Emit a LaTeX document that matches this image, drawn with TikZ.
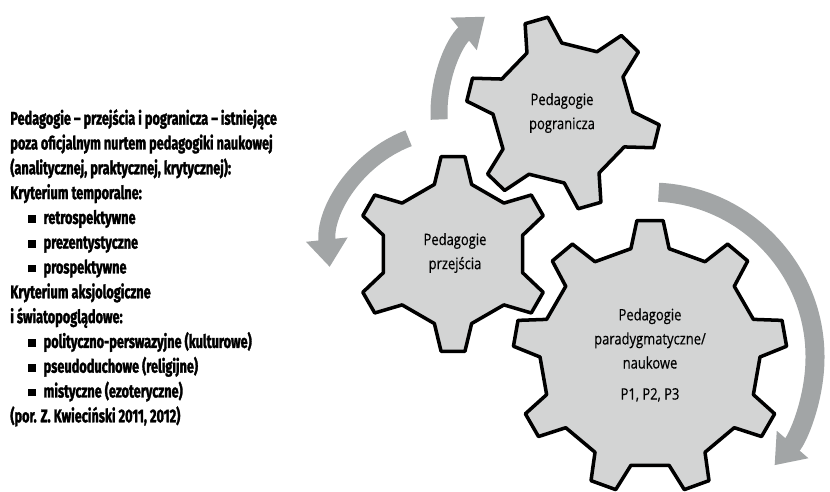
\documentclass[tikz,border=0pt]{standalone}
\usepackage{fontspec}
\setmainfont{Open Sans}
\newfontfamily\opisfont[FakeStretch=0.69, BoldFeatures={FakeBold=1.6}]{Fira Sans}
\newfontfamily\zebfont[FakeStretch=0.82, FakeBold=0.4]{Open Sans}
\usetikzlibrary{arrows.meta}

\definecolor{gearfill}{HTML}{D3D4D4}
\definecolor{arrowgray}{HTML}{A2A5A6}

\tikzset{
    zebatka/.style={draw=black, fill=gearfill, line width=2pt, line join=round},
    strzalka/.style={draw=arrowgray, line width=0.34cm, -{Triangle[width=0.8cm,length=0.55cm]}},
    opis/.style={anchor=mid west, inner sep=0pt, font=\fontsize{10.5}{12}\opisfont\bfseries},
    napis/.style={align=center, inner sep=0pt, text=black, font=\fontsize{9}{13.7}\zebfont},
}
\newcommand{\kwadrat}{\rule[0.6pt]{4.2pt}{4.2pt}\hspace{4.5pt}}

\begin{document}
\begin{tikzpicture}[x=0.02cm, y=0.02cm]
            \clip (0,0) rectangle (830,492);

            \coordinate (srodekPog) at (563,379);
            \coordinate (srodekPrz) at (453,238);
            \coordinate (srodekPar) at (650,135);

            % zebatki
            \draw[zebatka] ([shift={(-29:70)}]srodekPog)
                \foreach \a in {-14,46,...,286} {
                    -- ([shift={(\a-15:70)}]srodekPog) -- ([shift={(\a-7:97)}]srodekPog)
                    -- ([shift={(\a+7:97)}]srodekPog) -- ([shift={(\a+15:70)}]srodekPog)
                } -- cycle;
            \draw[zebatka] ([shift={(75:72)}]srodekPrz)
                \foreach \a in {90,150,...,390} {
                    -- ([shift={(\a-15:72)}]srodekPrz) -- ([shift={(\a-7:98)}]srodekPrz)
                    -- ([shift={(\a+7:98)}]srodekPrz) -- ([shift={(\a+15:72)}]srodekPrz)
                } -- cycle;
            \draw[zebatka] ([shift={(80:110)}]srodekPar)
                \foreach \a in {90,130,...,410} {
                    -- ([shift={(\a-10:110)}]srodekPar) -- ([shift={(\a-5.5:137)}]srodekPar)
                    -- ([shift={(\a+5.5:137)}]srodekPar) -- ([shift={(\a+10:110)}]srodekPar)
                } -- cycle;

            % strzalki
            \draw[strzalka] ([shift={(183:124)}]srodekPog) arc[start angle=183, end angle=129, radius=124];
            \draw[strzalka] ([shift={(111:124)}]srodekPrz) arc[start angle=111, end angle=186, radius=124];
            \draw[strzalka, line width=0.38cm] ([shift={(87:165)}]srodekPar) arc[start angle=87, end angle=-41, radius=165];

            \node[napis] (napisPog) at (562,379) {Pedagogie\\pogranicza};
            \node[napis] (napisPrz) at (455,239) {Pedagogie\\przejścia};
            \node[napis] (napisPar) at (650,137) {Pedagogie\\paradygmatyczne/\\naukowe\\[4pt]P1, P2, P3};

            % opis po lewej
            \node[opis] (l1) at (10,372) {Pedagogie – przejścia i pogranicza – istniejące};
            \node[opis] (l2) at (10,347.2) {poza oficjalnym nurtem pedagogiki naukowej};
            \node[opis] (l3) at (10,322.4) {(analitycznej, praktycznej, krytycznej):};
            \node[opis] (l4) at (10,297.6) {Kryterium temporalne:};
            \node[opis] (l5) at (28,272.8) {\kwadrat retrospektywne};
            \node[opis] (l6) at (28,248) {\kwadrat prezentystyczne};
            \node[opis] (l7) at (28,223.2) {\kwadrat prospektywne};
            \node[opis] (l8) at (10,198.4) {Kryterium aksjologiczne};
            \node[opis] (l9) at (10,173.6) {i światopoglądowe:};
            \node[opis] (l10) at (28,148.8) {\kwadrat polityczno-perswazyjne (kulturowe)};
            \node[opis] (l11) at (28,124) {\kwadrat pseudoduchowe (religijne)};
            \node[opis] (l12) at (28,99.2) {\kwadrat mistyczne (ezoteryczne)};
            \node[opis] (l13) at (10,74.4) {(por. Z. Kwieciński 2011, 2012)};

\end{tikzpicture}
\end{document}
